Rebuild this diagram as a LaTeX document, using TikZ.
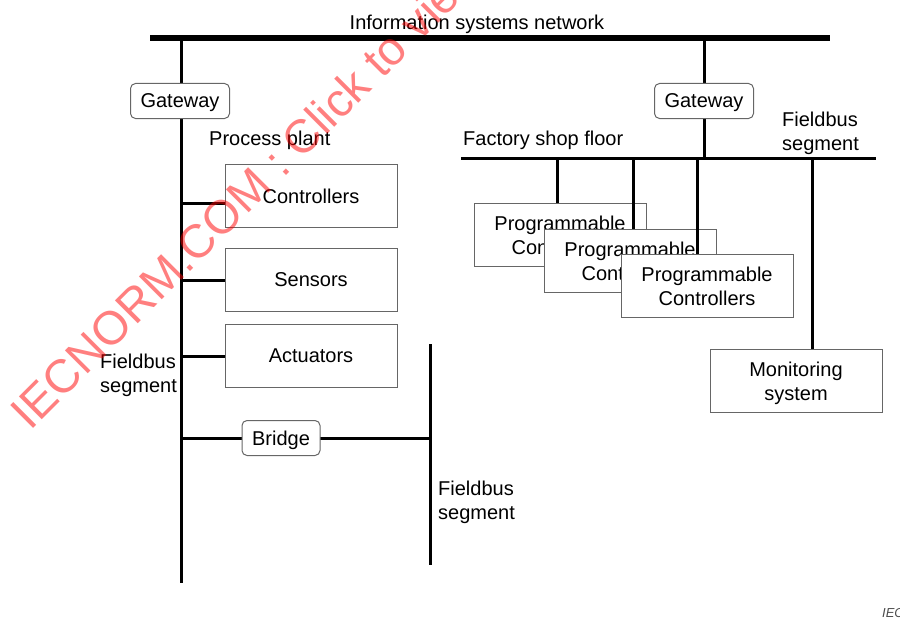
\documentclass[tikz,border=0pt]{standalone}
\usepackage{fontspec}
\setmainfont{Liberation Sans}
\usetikzlibrary{positioning}
\tikzset{
	unit/.style={draw=black!60, line width=1pt, fill=white, minimum width=172pt, minimum height=63pt, inner sep=0pt, align=center, text depth=0pt},
	gate/.style={draw=black!60, line width=1pt, rounded corners=5pt, fill=white, minimum width=99pt, minimum height=35pt, inner sep=0pt, text depth=0pt},
	fbus/.style={line width=3pt},
	txt/.style={inner sep=0pt, align=left, text depth=0pt}
}
\begin{document}
\begin{tikzpicture}[x=1pt,y=-1pt,font=\fontsize{20}{24}\selectfont]
	\useasboundingbox (0,0) rectangle (900,618);
	\coordinate (isnleft) at (150,38);
	\coordinate (isnright) at (830,38);
	\coordinate (planttop) at (181,38);
	\coordinate (plantbottom) at (181,583);
	\coordinate (shoptop) at (704,38);
	\coordinate (shopleft) at (461,158);
	\coordinate (shopright) at (876,158);
	\coordinate (segtop) at (430,344);
	\coordinate (segbottom) at (430,565);
	% Information Systems Network %
	\draw [line width=6pt] (isnleft) -- (isnright);
	\node [txt] (isn) at (477,22) {Information systems network};
	% Process Plant %
	\draw [fbus] (planttop) -- (plantbottom);
	\node [gate] (gwleft) at (180,101) {Gateway};
	\node [txt, anchor=west] (plant) at (209,138) {Process plant};
	\node [unit] (ctrl) at (311,196) {Controllers};
	\node [unit] (sens) at (311,280) {Sensors};
	\node [unit] (act) at (311,356) {Actuators};
	\draw [fbus] ([yshift=-7pt]ctrl.west) -- ([yshift=-7pt]ctrl.west -| plantbottom);
	\draw [fbus] (sens.west) -- (sens.west -| plantbottom);
	\draw [fbus] (act.west) -- (act.west -| plantbottom);
	\node [txt, anchor=west] (fbleft) at (100,373) {Fieldbus\\segment};
	% Bridge %
	\draw [fbus] (segtop) -- (segbottom);
	\draw [fbus] (181,438) -- (segtop |- 0,438);
	\node [gate, minimum width=78pt] (bridge) at (281,438) {Bridge};
	\node [txt, anchor=west] (fbbottom) at (438,500) {Fieldbus\\segment};
	% Factory Shop Floor %
	\draw [fbus] (shoptop) -- (shoptop |- shopleft);
	\draw [fbus] (shopleft) -- (shopright);
	\node [gate] (gwright) at (704,101) {Gateway};
	\node [txt, anchor=west] (shop) at (463,138) {Factory shop floor};
	\node [txt, anchor=west] (fbright) at (782,131) {Fieldbus\\segment};
	% Programmable Controllers %
	\node [unit] (pca) at (560,235) {Programmable\\Controllers};
	\draw [fbus] ([xshift=-3pt]pca.north) -- ([xshift=-3pt]pca.north |- shopleft);
	\node [unit] (pcb) at (630,261) {Programmable\\Controllers};
	\draw [fbus] ([xshift=3pt]pcb.north) -- ([xshift=3pt]pcb.north |- shopleft);
	\node [unit] (pcc) at (707,286) {Programmable\\Controllers};
	\draw [fbus] ([xshift=-10pt]pcc.north) -- ([xshift=-10pt]pcc.north |- shopleft);
	% Monitoring %
	\node [unit] (mon) at (796,381) {Monitoring\\system};
	\draw [fbus] ([xshift=16pt]mon.north) -- ([xshift=16pt]mon.north |- shopleft);
	% Figure Number %
	\node [txt, anchor=base west, font=\itshape\fontsize{13}{15}\selectfont, text=black!70] (fig) at (882,617) {IEC};
	% Watermark %
	\node [txt, anchor=base west, rotate=45, text=red, opacity=0.5, font=\fontsize{47}{47}\selectfont] (mark) at (30,432) {IECNORM.COM : Click to view the full PDF};
\end{tikzpicture}
\end{document}
